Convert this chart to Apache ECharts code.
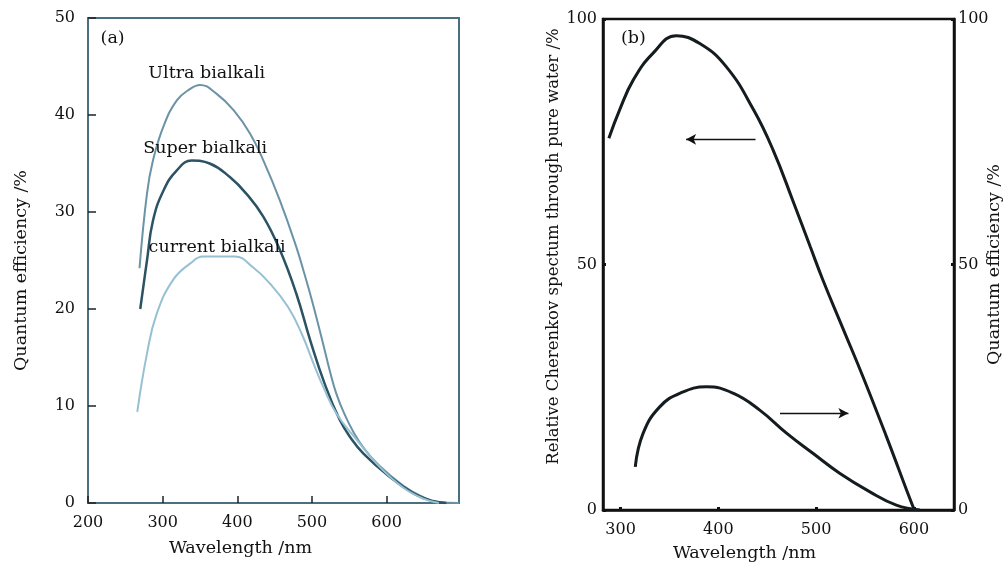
<!DOCTYPE html>
<html>
<head>
<meta charset="utf-8">
<script src="https://cdn.jsdelivr.net/npm/echarts@6/dist/echarts.min.js"></script>
<style>html,body{margin:0;padding:0;background:#fff}#c{width:1004px;height:562px}</style>
</head>
<body>
<div id="c"></div>
<script>
// Panel (a): quantum efficiency (%) vs wavelength (nm)
var ultraBialkali = [[269,24.2],[279,31.9],[287,35.3],[301,38.8],[319,41.5],[337,42.7],[350,43.1],[372,42.2],[395,40.5],[417,38.1],[435,35.3],[457,31.2],[479,26.4],[490,23.6],[501,20.6],[515,16.4],[524,13.6],[533,11.2],[544,9.1],[555,7.4],[570,5.6],[587,4.1],[622,1.8],[649,0.6],[667,0.1],[697,0]];
var superBialkali = [[270,20.0],[279,25.0],[287,29.1],[301,32.2],[319,34.3],[339,35.3],[363,35.0],[390,33.6],[412,31.9],[435,29.5],[457,26.1],[479,21.6],[498,16.7],[517,12.3],[537,8.6],[552,6.7],[569,5.1],[604,2.7],[636,1.0],[662,0.2],[680,0]];
var currentBialkali = [[266,9.4],[279,15.4],[292,19.5],[314,23.0],[337,24.7],[354,25.4],[397,25.4],[421,24.3],[444,22.6],[468,20.2],[486,17.5],[502,14.4],[515,12.0],[533,9.2],[560,6.5],[591,3.7],[622,1.6],[649,0.45],[670,0]];
// Panel (b)
var cherenkov = [[288,75.7],[299,81.5],[313,87.6],[333,93.0],[357,96.6],[381,95.0],[408,90.3],[436,81.5],[456,73.3],[476,63.1],[494,53.6],[507,46.8],[528,36.7],[548,27.1],[572,14.9],[599,0.7],[601,0]];
var qeB = [[315,8.8],[323,15.6],[340,21.0],[361,23.8],[388,25.1],[415,23.8],[442,20.4],[470,15.6],[497,11.5],[524,7.5],[555,3.7],[582,1.0],[606,0]];
var xTicksB = [300,400,500,600];
var labelsA = [['Ultra bialkali',359,44.3],['Super bialkali',357,36.6],['current bialkali',373,26.3],['(a)',233,47.9]];
var labelB = ['(b)',313,96.1];
var arrowLeft = [[438,75.5],[367,75.5]];
var arrowRight = [[463,19.7],[533,19.7]];

var SERIF = 'DejaVu Serif';
var axA = '#4a7080';
var txt = {fontFamily:SERIF, color:'#111', fontSize:16};

var chart = echarts.init(document.getElementById('c'), null, {renderer:'canvas'});
chart.setOption({
  animation:false,
  backgroundColor:'#fff',
  textStyle:{fontFamily:SERIF},
  grid:[
    {left:88, top:18, width:371, height:485, show:true, borderColor:axA, borderWidth:2, containLabel:false, outerBoundsMode:'none'},
    {left:603, top:19, width:351, height:491, show:true, borderColor:'#111', borderWidth:2.5, containLabel:false, outerBoundsMode:'none'}
  ],
  xAxis:[
    {type:'value', gridIndex:0, min:200, max:697, interval:100,
     name:'Wavelength /nm', nameLocation:'middle', nameGap:36,
     nameTextStyle:{fontFamily:SERIF, color:'#111', fontSize:17.5, padding:[0,66,0,0]},
     axisLine:{lineStyle:{color:axA, width:2}},
     axisTick:{inside:true, length:7, lineStyle:{color:'#222', width:1.5}},
     axisLabel:Object.assign({margin:12, showMaxLabel:false}, txt),
     splitLine:{show:false}},
    {type:'value', gridIndex:1, min:282, max:641,
     name:'Wavelength /nm', nameLocation:'middle', nameGap:34,
     nameTextStyle:{fontFamily:SERIF, color:'#111', fontSize:17.5, padding:[0,68,0,0]},
     axisLine:{lineStyle:{color:'#111', width:2.5}},
     axisTick:{inside:true, length:3, customValues:xTicksB, lineStyle:{color:'#111', width:3}},
     axisLabel:Object.assign({margin:12, customValues:xTicksB}, txt),
     splitLine:{show:false}}
  ],
  yAxis:[
    {type:'value', gridIndex:0, min:0, max:50, interval:10,
     name:'Quantum efficiency /%', nameLocation:'middle', nameGap:58,
     nameTextStyle:{fontFamily:SERIF, color:'#111', fontSize:17.5, padding:[0,20,0,0]},
     axisLine:{lineStyle:{color:axA, width:2}},
     axisTick:{inside:true, length:8, lineStyle:{color:'#222', width:1.5}},
     axisLabel:Object.assign({margin:13}, txt),
     splitLine:{show:false}},
    {type:'value', gridIndex:1, min:0, max:100, interval:50, position:'left',
     name:'Relative Cherenkov spectum through pure water /%', nameLocation:'middle', nameGap:40,
     nameTextStyle:{fontFamily:SERIF, color:'#111', fontSize:16.5, padding:[0,0,0,36]},
     axisLine:{lineStyle:{color:'#111', width:2.5}},
     axisTick:{inside:true, length:3, lineStyle:{color:'#111', width:3}},
     axisLabel:Object.assign({margin:6}, txt),
     splitLine:{show:false}},
    {type:'value', gridIndex:1, min:0, max:100, interval:50, position:'right',
     name:'Quantum efficiency /%', nameLocation:'middle', nameGap:31, nameMoveOverlap:false,
     nameTextStyle:{fontFamily:SERIF, color:'#111', fontSize:17.5},
     axisLine:{lineStyle:{color:'#111', width:2.5}},
     axisTick:{inside:true, length:3, lineStyle:{color:'#111', width:3}},
     axisLabel:Object.assign({margin:4}, txt),
     splitLine:{show:false}}
  ],
  series:[
    {type:'line', xAxisIndex:0, yAxisIndex:0, data:ultraBialkali, smooth:0.45, showSymbol:false,
     lineStyle:{color:'#6b93a6', width:2},
     markPoint:{symbol:'circle', symbolSize:0, silent:true,
       label:{show:true, position:'inside', fontFamily:SERIF, fontSize:17.5, color:'#111', formatter:function(p){return p.name;}},
       data:labelsA.map(function(l){return {name:l[0], coord:[l[1],l[2]]};})}},
    {type:'line', xAxisIndex:0, yAxisIndex:0, data:superBialkali, smooth:0.45, showSymbol:false,
     lineStyle:{color:'#2b5363', width:2.5}},
    {type:'line', xAxisIndex:0, yAxisIndex:0, data:currentBialkali, smooth:0.45, showSymbol:false,
     lineStyle:{color:'#98c0d3', width:2}},
    {type:'line', xAxisIndex:1, yAxisIndex:1, data:cherenkov, smooth:0.45, showSymbol:false,
     lineStyle:{color:'#141c20', width:3},
     markPoint:{symbol:'circle', symbolSize:0, silent:true,
       label:{show:true, position:'inside', fontFamily:SERIF, fontSize:17.5, color:'#111', formatter:function(p){return p.name;}},
       data:[{name:labelB[0], coord:[labelB[1],labelB[2]]}]},
     markLine:{silent:true, symbol:['none','arrow'], symbolSize:[8,10], label:{show:false},
       lineStyle:{color:'#111', width:1.3, type:'solid'},
       data:[[{coord:arrowLeft[0]},{coord:arrowLeft[1]}]]}},
    {type:'line', xAxisIndex:1, yAxisIndex:2, data:qeB, smooth:0.45, showSymbol:false,
     lineStyle:{color:'#141c20', width:3},
     markLine:{silent:true, symbol:['none','arrow'], symbolSize:[8,10], label:{show:false},
       lineStyle:{color:'#111', width:1.3, type:'solid'},
       data:[[{coord:arrowRight[0]},{coord:arrowRight[1]}]]}}
  ]
});
</script>
</body>
</html>
